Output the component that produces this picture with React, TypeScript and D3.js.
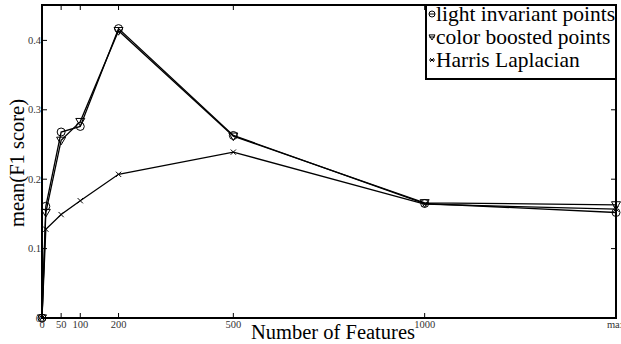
import React from "react";
import * as d3 from "d3";

const features = [0, 10, 50, 100, 200, 500, 1000, 1500];
const lightInvariant = [0, 0.161, 0.268, 0.276, 0.417, 0.263, 0.165, 0.152];
const colorBoosted = [0, 0.152, 0.256, 0.283, 0.414, 0.262, 0.166, 0.163];
const harrisLaplacian = [0, 0.128, 0.149, 0.169, 0.207, 0.239, 0.164, 0.157];
const xTickValues = [0, 50, 100, 200, 500, 1000, 1500];
const xTickLabels = ["0", "50", "100", "200", "500", "1000", "max"];
const yTickValues = [0, 0.1, 0.2, 0.3, 0.4];
const yTickLabels = ["0", "0.1", "0.2", "0.3", "0.4"];
const seriesNames = ["light invariant points", "color boosted points", "Harris Laplacian"];

const W = 621, H = 344;
const L = 42, R = 616, T = 5, B = 318;

function Marker({ kind, x, y, s }: { kind: string; x: number; y: number; s: number }) {
  if (kind === "circle") return <circle cx={x} cy={y} r={s} fill="none" stroke="#000" strokeWidth={1} />;
  if (kind === "tri") {
    const p = `${x - s},${y - s * 0.7} ${x + s},${y - s * 0.7} ${x},${y + s * 1.0}`;
    return <polygon points={p} fill="none" stroke="#000" strokeWidth={1} />;
  }
  const d = s * 0.75;
  return <path d={`M${x - d},${y - d}L${x + d},${y + d}M${x - d},${y + d}L${x + d},${y - d}`} stroke="#000" strokeWidth={1} />;
}

export default function App() {
  const x = d3.scaleLinear().domain([0, 1500]).range([L, R]);
  const y = d3.scaleLinear().domain([0, 0.451]).range([B, T]);
  const line = d3.line<number>().x((_, i) => x(features[i])).y((v) => y(v));
  const series = [
    { vals: lightInvariant, kind: "circle", s: 4 },
    { vals: colorBoosted, kind: "tri", s: 4.5 },
    { vals: harrisLaplacian, kind: "x", s: 3.5 },
  ];
  const serif = "'Liberation Serif', 'Times New Roman', serif";
  return (
    <svg width={W} height={H} style={{ position: "absolute", left: 0, top: 0, background: "#fff" }} fontFamily={serif}>
      <rect x={0} y={0} width={W} height={H} fill="#fff" />
      {series.map((sr, si) => (
        <g key={si}>
          <path d={line(sr.vals) || ""} fill="none" stroke="#000" strokeWidth={1.3} />
          {sr.vals.map((v, i) => (
            <Marker key={i} kind={sr.kind} x={x(features[i])} y={y(v)} s={sr.s} />
          ))}
        </g>
      ))}
      {xTickValues.map((t, i) => (
        <g key={"xt" + i}>
          {t > 0 && t < 1500 && (
            <>
              <line x1={x(t)} x2={x(t)} y1={B} y2={B - 5} stroke="#000" strokeWidth={1} />
              <line x1={x(t)} x2={x(t)} y1={T} y2={T + 5} stroke="#000" strokeWidth={1} />
            </>
          )}
          <text x={x(t)} y={B + 10} fontSize={10.5} fill="#333" textAnchor="middle">
            {xTickLabels[i]}
          </text>
        </g>
      ))}
      {yTickValues.map((t, i) => (
        <g key={"yt" + i}>
          {t > 0 && (
            <>
              <line x1={L} x2={L + 5} y1={y(t)} y2={y(t)} stroke="#000" strokeWidth={1} />
              <line x1={R} x2={R - 5} y1={y(t)} y2={y(t)} stroke="#000" strokeWidth={1} />
            </>
          )}
          <text x={L - 1} y={y(t) + 3.5} fontSize={10.5} fill="#333" textAnchor="end">
            {yTickLabels[i]}
          </text>
        </g>
      ))}
      <rect x={L} y={T} width={R - L} height={B - T} fill="none" stroke="#000" strokeWidth={2} />
      <rect x={426} y={T} width={R - 426} height={74} fill="#fff" stroke="#000" strokeWidth={2} />
      {seriesNames.map((n, i) => (
        <g key={"lg" + i}>
          <Marker kind={series[i].kind} x={432} y={14 + i * 23} s={series[i].kind === "x" ? 2.5 : 3} />
          <line x1={429} x2={435} y1={14 + i * 23} y2={14 + i * 23} stroke="#000" strokeWidth={1} />
          <text x={436} y={21 + i * 23} fontSize={21.5} fill="#000">
            {n}
          </text>
        </g>
      ))}
      <text x={333} y={339} fontSize={20.5} textAnchor="middle" fill="#000">
        Number of Features
      </text>
      <text transform={`translate(24,163) rotate(-90)`} fontSize={20.5} textAnchor="middle" fill="#000">
        mean(F1 score)
      </text>
    </svg>
  );
}
